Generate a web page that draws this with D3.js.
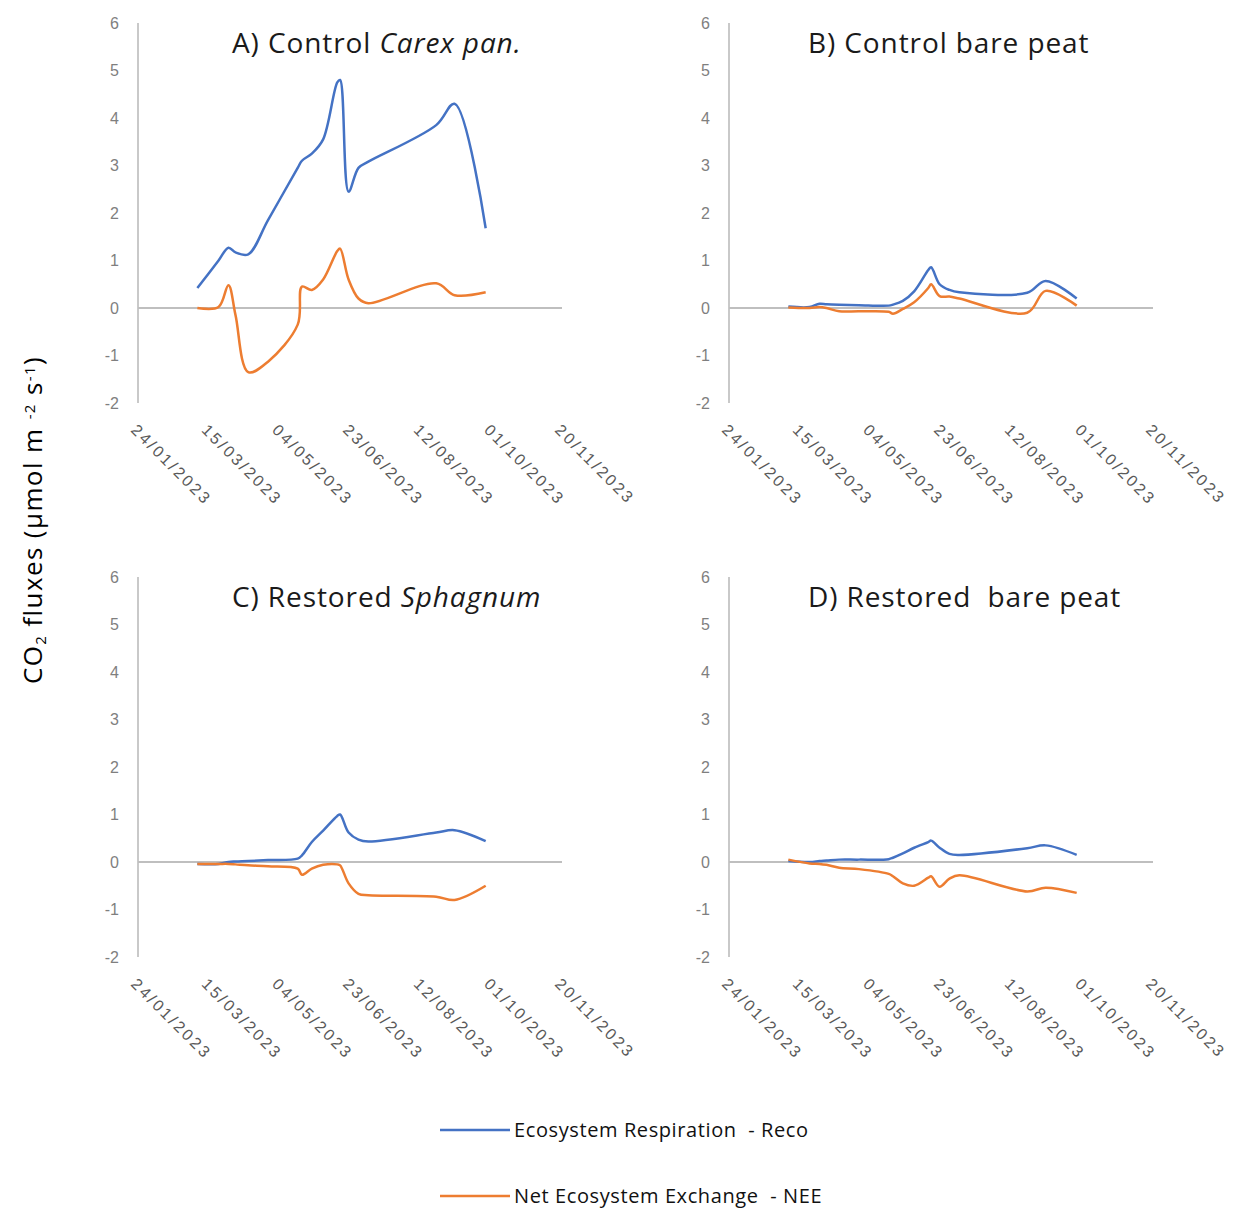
<!DOCTYPE html>
<html>
<head>
<meta charset="utf-8">
<script src="https://cdn.jsdelivr.net/npm/d3@7"></script>
<style>
  body { margin: 0; background: #fff; }
  text { white-space: pre; }
</style>
</head>
<body>
<div id="chart"></div>
<script>
// sampling dates (shared by all panels)
var dates = ["2023-03-07", "2023-03-22", "2023-03-29", "2023-04-03", "2023-04-12",
             "2023-04-26", "2023-05-17", "2023-05-20", "2023-05-27", "2023-06-04",
             "2023-06-14", "2023-06-16", "2023-06-22", "2023-06-29", "2023-07-06",
             "2023-08-23", "2023-09-05", "2023-09-27"]

// Ecosystem respiration (Reco) and net ecosystem exchange (NEE), µmol m-2 s-1
var recoA = [0.42, 1.0, 1.27, 1.17, 1.13, 1.85, 2.95, 3.1, 3.25, 3.55, 4.75, 4.8, 2.45, 2.95, 3.08, 3.85, 4.3, 1.68]
var neeA  = [0.0, 0.02, 0.48, -0.15, -1.35, -1.13, -0.35, 0.45, 0.38, 0.6, 1.2, 1.25, 0.6, 0.2, 0.1, 0.52, 0.27, 0.33]

var recoB = [0.03, 0.02, 0.09, 0.08, 0.07, 0.06, 0.05, 0.07, 0.15, 0.35, 0.8, 0.86, 0.5, 0.38, 0.33, 0.32, 0.57, 0.2]
var neeB  = [0.01, 0.0, 0.02, 0.0, -0.07, -0.07, -0.08, -0.12, -0.02, 0.12, 0.42, 0.5, 0.25, 0.24, 0.2, -0.1, 0.36, 0.05]

var recoC = [-0.04, -0.04, 0.0, 0.01, 0.02, 0.04, 0.07, 0.14, 0.42, 0.66, 0.97, 1.0, 0.62, 0.47, 0.43, 0.62, 0.67, 0.44]
var neeC  = [-0.04, -0.04, -0.04, -0.05, -0.07, -0.09, -0.14, -0.27, -0.14, -0.06, -0.05, -0.07, -0.45, -0.67, -0.7, -0.73, -0.8, -0.5]

var recoD = [0.02, 0.0, 0.02, 0.03, 0.05, 0.05, 0.06, 0.09, 0.18, 0.3, 0.42, 0.45, 0.3, 0.17, 0.15, 0.29, 0.35, 0.15]
var neeD  = [0.05, -0.03, -0.04, -0.06, -0.12, -0.15, -0.25, -0.3, -0.45, -0.5, -0.33, -0.3, -0.52, -0.35, -0.28, -0.62, -0.54, -0.65]

var titles = [["A) Control ", "Carex pan."], ["B) Control bare peat", ""],
              ["C) Restored ", "Sphagnum"], ["D) Restored  bare peat", ""]]

var yTicks = [-2, -1, 0, 1, 2, 3, 4, 5, 6]
var xTicks = ["2023-01-24", "2023-03-15", "2023-05-04", "2023-06-23", "2023-08-12", "2023-10-01", "2023-11-20"]

var seriesNames = ["Ecosystem Respiration  - Reco", "Net Ecosystem Exchange  - NEE"]
var colors = ["#4472C4", "#ED7D31"]

var parse = d3.utcParse("%Y-%m-%d")
var fmt = d3.utcFormat("%d/%m/%Y")

var panels = [
  {x: 138, y: 23, tx: 94, reco: recoA, nee: neeA, title: titles[0]},
  {x: 729, y: 23, tx: 79, reco: recoB, nee: neeB, title: titles[1]},
  {x: 138, y: 577, tx: 94, reco: recoC, nee: neeC, title: titles[2]},
  {x: 729, y: 577, tx: 79, reco: recoD, nee: neeD, title: titles[3]}
]

var pw = 424, ph = 380

var svg = d3.select("#chart")
  .append("svg")
    .attr("width", 1237)
    .attr("height", 1209)

var x = d3.scaleUtc()
  .domain([parse(xTicks[0]), parse(xTicks[xTicks.length - 1])])
  .range([0, pw])

var y = d3.scaleLinear()
  .domain([-2, 6])
  .range([ph, 0])

var line = d3.line()
  .x(function(d) { return x(d.date) })
  .y(function(d) { return y(d.value) })
  .curve(d3.curveCatmullRom.alpha(0.5))

panels.forEach(function(p) {
  var g = svg.append("g").attr("transform", "translate(" + p.x + "," + p.y + ")")

  // vertical axis line
  g.append("line")
    .attr("x1", 0).attr("x2", 0)
    .attr("y1", 0).attr("y2", ph)
    .attr("stroke", "#c9c9c9")
    .attr("stroke-width", 2)

  // y tick labels
  g.selectAll("ylab")
    .data(yTicks)
    .enter()
    .append("text")
      .attr("x", -19)
      .attr("y", function(d) { return y(d) })
      .attr("dy", "0.35em")
      .attr("text-anchor", "end")
      .style("font-family", "'Liberation Sans', sans-serif")
      .style("font-size", "16px")
      .style("fill", "#7f7f7f")
      .text(function(d) { return d })

  // zero line
  g.append("line")
    .attr("x1", 0).attr("x2", pw)
    .attr("y1", y(0)).attr("y2", y(0))
    .attr("stroke", "#bfbfbf")
    .attr("stroke-width", 2)

  // x tick labels, rotated
  g.selectAll("xlab")
    .data(xTicks)
    .enter()
    .append("text")
      .attr("transform", function(d) {
        return "translate(" + (x(parse(d)) - 8) + "," + (ph + 28) + ") rotate(45)"
      })
      .style("font-family", "'Liberation Sans', sans-serif")
      .style("font-size", "16px")
      .style("letter-spacing", "2.6px")
      .style("fill", "#595959")
      .text(function(d) { return fmt(parse(d)) })

  // series
  ;[p.reco, p.nee].forEach(function(vals, i) {
    var pts = dates.map(function(d, j) { return {date: parse(d), value: vals[j]} })
    g.append("path")
      .datum(pts)
      .attr("d", line)
      .attr("fill", "none")
      .attr("stroke", colors[i])
      .attr("stroke-width", 2.5)
      .attr("stroke-linejoin", "round")
  })

  // title
  var t = g.append("text")
    .attr("x", p.tx)
    .attr("y", 30)
    .style("font-family", "'Open Sans', sans-serif")
    .style("font-size", "28px")
    .style("letter-spacing", "0.9px")
    .style("fill", "#1a1a1a")
  t.append("tspan").text(p.title[0])
  if (p.title[1]) t.append("tspan").style("font-style", "italic").text(p.title[1])
})

// y axis title
var yt = svg.append("text")
  .attr("transform", "translate(42,520) rotate(-90)")
  .attr("text-anchor", "middle")
  .style("font-family", "'Open Sans', sans-serif")
  .style("font-size", "26px")
  .style("letter-spacing", "1.4px")
  .style("fill", "#000")
yt.append("tspan").text("CO")
yt.append("tspan").attr("baseline-shift", "-25%").style("font-size", "15px").text("2")
yt.append("tspan").text(" fluxes (µmol m ")
yt.append("tspan").attr("baseline-shift", "45%").style("font-size", "15px").text("-2")
yt.append("tspan").text(" s")
yt.append("tspan").attr("baseline-shift", "45%").style("font-size", "15px").text("-1")
yt.append("tspan").text(")")

// legend
var lg = svg.selectAll("legend")
  .data(seriesNames)
  .enter()
  .append("g")
    .attr("transform", function(d, i) { return "translate(440," + (1130 + i * 66) + ")" })
lg.append("line")
  .attr("x1", 0).attr("x2", 70)
  .attr("stroke", function(d, i) { return colors[i] })
  .attr("stroke-width", 2.5)
lg.append("text")
  .attr("x", 74)
  .attr("y", 7)
  .style("font-family", "'Open Sans', sans-serif")
  .style("font-size", "20px")
  .style("letter-spacing", "0.6px")
  .style("fill", "#111")
  .text(function(d) { return d })
</script>
</body>
</html>
